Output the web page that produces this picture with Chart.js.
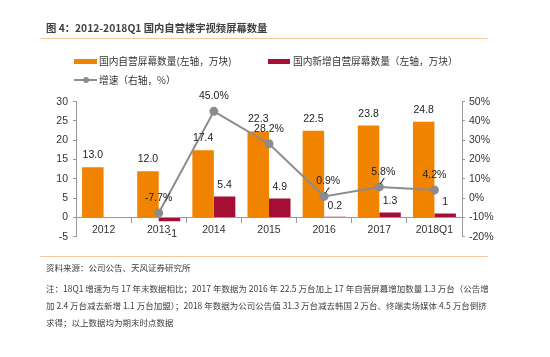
<!DOCTYPE html>
<html>
<head>
<meta charset="utf-8">
<script src="https://cdn.jsdelivr.net/npm/chart.js@4/dist/chart.umd.min.js"></script>
<style>
  html, body { margin: 0; padding: 0; background: #fff; }
  body { width: 550px; height: 357px; position: relative; overflow: hidden; font-family: "Noto Sans CJK SC", sans-serif; }
  .abs { position: absolute; white-space: nowrap; }
  #title { left: 46px; top: 21px; font-size: 10.3px; font-weight: bold; color: #404040; line-height: 14px; }
  .rule { position: absolute; left: 40px; width: 448px; height: 1px; background: #F8C79B; }
  .leg { font-size: 9.7px; color: #333; line-height: 12px; }
  .sw { position: absolute; }
  .note { font-size: 8.5px; color: #404040; line-height: 12px; left: 46px; }
  .just { width: 434px; text-align: justify; text-align-last: justify; }
  #chart { position: absolute; left: 0; top: 0; }
</style>
</head>
<body>
<canvas id="chart" width="550" height="357"></canvas>
<div id="title" class="abs">图 4：2012-2018Q1 国内自营楼宇视频屏幕数量</div>
<div class="rule" style="top:38px"></div>

<div class="sw" style="left:74px;top:58.5px;width:23px;height:5px;background:#F08300"></div>
<div class="abs leg" style="left:99px;top:55px">国内自营屏幕数量(左轴，万块)</div>
<div class="sw" style="left:268px;top:58.5px;width:22px;height:5px;background:#A50F35"></div>
<div class="abs leg" style="left:293px;top:55px">国内新增自营屏幕数量（左轴，万块）</div>
<div class="sw" style="left:74px;top:79px;width:23px;height:2px;background:#8C8C8C"></div>
<div class="sw" style="left:82.5px;top:77px;width:6px;height:6px;border-radius:50%;background:#8C8C8C"></div>
<div class="abs leg" style="left:99px;top:74px">增速（右轴，%）</div>

<div class="rule" style="top:256px"></div>
<div class="abs note" style="top:261px">资料来源：公司公告、天风证券研究所</div>
<div class="abs note just" style="top:282px">注：18Q1 增速为与 17 年末数据相比；2017 年数据为 2016 年 22.5 万台加上 17 年自营屏幕增加数量 1.3 万台（公告增</div>
<div class="abs note just" style="top:299px">加 2.4 万台减去新增 1.1 万台加盟）；2018 年数据为公司公告值 31.3 万台减去韩国 2 万台、终端卖场媒体 4.5 万台倒挤</div>
<div class="abs note" style="top:316px">求得；以上数据均为期末时点数据</div>

<script>
// ---- data ----
const categories = ['2012', '2013', '2014', '2015', '2016', '2017', '2018Q1'];
const screenTotal = [13.0, 12.0, 17.4, 22.3, 22.5, 23.8, 24.8];
const screenNew = [null, -1, 5.4, 4.9, 0.2, 1.3, 1];
const growthPct = [null, -7.7, 45.0, 28.2, 0.9, 5.8, 4.2];
const leftAxisRange = [-5, 30, 5];
const rightAxisRange = [-20, 50, 10];
const leaderLabels = [4, 5];

const FONT = '"Liberation Sans", Arial, sans-serif';

const labelPlugin = {
  id: 'valueLabels',
  afterDatasetsDraw(chart) {
    const ctx = chart.ctx;
    ctx.save();
    ctx.font = '10.5px ' + FONT;
    ctx.fillStyle = '#222';
    ctx.textAlign = 'center';
    ctx.textBaseline = 'middle';
    chart.data.datasets.forEach((ds, di) => {
      const meta = chart.getDatasetMeta(di);
      meta.data.forEach((el, i) => {
        const v = ds.data[i];
        if (v === null || v === undefined) return;
        const x = el.x, y = el.y;
        if (ds.type === 'line') {
          if (leaderLabels.includes(i)) {
            ctx.fillText(v.toFixed(1) + '%', x + 4, y - 15);
            ctx.strokeStyle = '#111';
            ctx.lineWidth = 1;
            ctx.beginPath();
            ctx.moveTo(x + 5, y - 9);
            ctx.lineTo(x + 1, y - 3);
            ctx.stroke();
          } else {
            ctx.fillText(v.toFixed(1) + '%', x, y - 15);
          }
        } else if (di === 0) {
          ctx.fillText(v.toFixed(1), x, y - 12);
        } else {
          if (v < 0) ctx.fillText(String(v), x + 3, y + 13);
          else ctx.fillText(String(v), x, y - 11);
        }
      });
    });
    ctx.restore();
  }
};

new Chart(document.getElementById('chart'), {
  type: 'bar',
  data: {
    labels: categories,
    datasets: [
      {
        label: '国内自营屏幕数量(左轴，万块)',
        data: screenTotal,
        backgroundColor: '#F08300',
        yAxisID: 'y',
        barPercentage: 1,
        categoryPercentage: 0.78,
        order: 1
      },
      {
        label: '国内新增自营屏幕数量（左轴，万块）',
        data: screenNew,
        backgroundColor: '#A50F35',
        yAxisID: 'y',
        barPercentage: 1,
        categoryPercentage: 0.78,
        order: 1
      },
      {
        type: 'line',
        label: '增速（右轴，%）',
        data: growthPct,
        yAxisID: 'y1',
        borderColor: '#8C8C8C',
        backgroundColor: '#8C8C8C',
        borderWidth: 2,
        pointRadius: 3.5,
        pointBackgroundColor: '#8C8C8C',
        pointBorderColor: '#8C8C8C',
        tension: 0,
        clip: false,
        order: 0
      }
    ]
  },
  options: {
    responsive: false,
    animation: false,
    events: [],
    layout: { padding: { left: 20, right: 38, top: 101.7, bottom: 120.3 } },
    plugins: { legend: { display: false }, tooltip: { enabled: false } },
    scales: {
      x: {
        type: 'category',
        position: { y: 0 },
        offset: true,
        grid: { offset: true, drawOnChartArea: false, drawTicks: true, tickLength: 5, color: '#999' },
        border: { color: '#999', width: 1 },
        ticks: { color: '#333', font: { family: FONT, size: 10.5 }, padding: 1, maxRotation: 0, autoSkip: false }
      },
      y: {
        position: 'left',
        min: leftAxisRange[0],
        max: leftAxisRange[1],
        afterFit(s) { s.width = 56; },
        grid: { drawOnChartArea: false, drawTicks: true, tickLength: 3, color: '#999' },
        border: { color: '#999', width: 1 },
        ticks: { stepSize: leftAxisRange[2], color: '#333', font: { family: FONT, size: 10.5 }, padding: 5 }
      },
      y1: {
        position: 'right',
        min: rightAxisRange[0],
        max: rightAxisRange[1],
        afterFit(s) { s.width = 50; },
        grid: { drawOnChartArea: false, drawTicks: true, tickLength: 3, color: '#999' },
        border: { color: '#999', width: 1 },
        ticks: { stepSize: rightAxisRange[2], color: '#333', font: { family: FONT, size: 10.5 }, padding: 4, callback: v => v + '%' }
      }
    }
  },
  plugins: [labelPlugin]
});
</script>
</body>
</html>
